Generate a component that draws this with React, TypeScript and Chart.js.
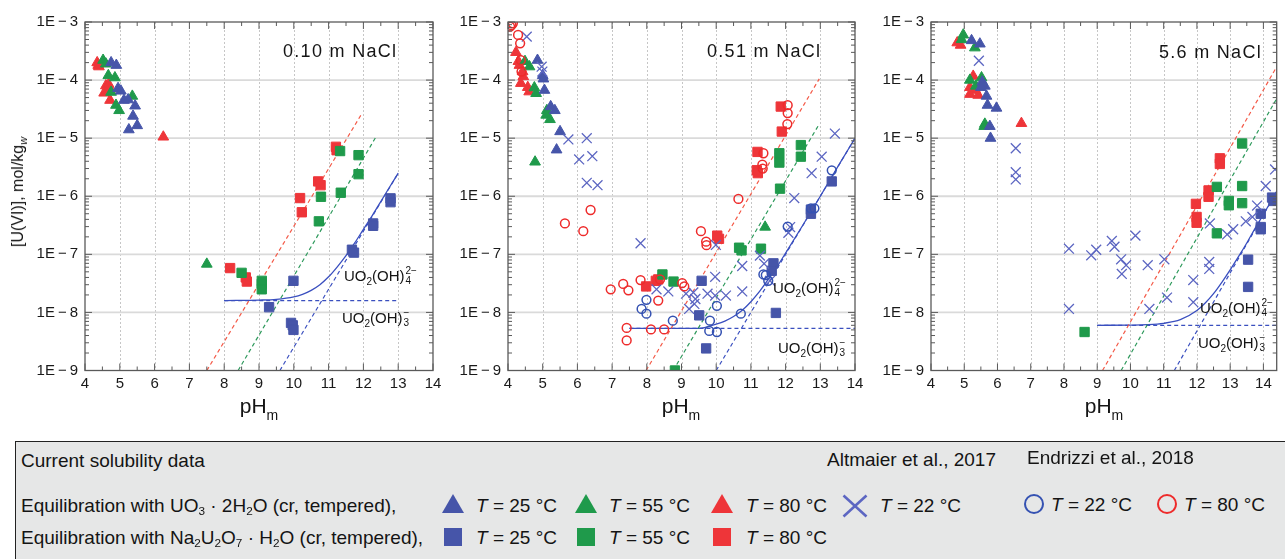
import React, { useEffect, useRef } from 'react';
import { Chart, registerables } from 'chart.js';

Chart.register(...registerables);

type Pt = [number, number];

// ---------- axes ----------
const X_TICKS = [4, 5, 6, 7, 8, 9, 10, 11, 12, 13, 14];
const Y_DECADES = [1e-9, 1e-8, 1e-7, 1e-6, 1e-5, 1e-4, 1e-3];
const PANEL_TITLES = ['0.10 m NaCl', '0.51 m NaCl', '5.6 m NaCl'];

// ---------- Panel A: 0.10 m NaCl ----------
const A_TRI25: Pt[] = [[4.75, 2.0e-4], [4.9, 1.8e-4], [4.95, 7.2e-5], [5.03, 6.5e-5], [5.12, 4.5e-5], [5.24, 4.6e-5], [5.44, 3.6e-5], [5.38, 2.4e-5], [5.5, 1.65e-5], [5.26, 1.4e-5]];
const A_TRI55: Pt[] = [[4.52, 2.2e-4], [4.6, 1.9e-4], [4.67, 1.2e-4], [4.86, 1.1e-4], [4.75, 6.2e-5], [5.36, 5.3e-5], [4.89, 3.7e-5], [4.98, 3.0e-5], [7.5, 6.8e-8]];
const A_TRI80: Pt[] = [[4.35, 2.0e-4], [4.38, 1.8e-4], [4.4, 1.7e-4], [4.6, 8.0e-5], [4.68, 8.5e-5], [4.55, 6.0e-5], [4.72, 7.0e-5], [4.65, 6.5e-5], [4.72, 4.5e-5], [6.25, 1.05e-5]];
const A_SQ25: Pt[] = [[9.99, 3.5e-8], [9.29, 1.23e-8], [9.92, 6.6e-9], [9.97, 6.0e-9], [9.99, 5.0e-9], [11.67, 1.2e-7], [11.73, 1.07e-7], [12.28, 3.4e-7], [12.28, 3.1e-7], [12.78, 9.2e-7], [12.78, 7.9e-7]];
const A_SQ55: Pt[] = [[8.5, 4.8e-8], [9.08, 3.5e-8], [9.08, 3.1e-8], [9.08, 2.5e-8], [10.78, 9.8e-7], [10.72, 3.7e-7], [11.35, 1.15e-6], [11.33, 6.0e-6], [11.86, 5.1e-6], [11.86, 2.4e-6]];
const A_SQ80: Pt[] = [[8.17, 5.8e-8], [8.62, 4.0e-8], [8.65, 3.4e-8], [10.18, 9.3e-7], [10.23, 5.3e-7], [10.7, 1.8e-6], [10.77, 1.55e-6], [11.21, 7.1e-6], [11.23, 6.2e-6]];
const A_RED_LINE: Pt[] = [[7.5, 1e-9], [11.93, 2.5e-5]];
const A_GREEN_LINE: Pt[] = [[8.4, 1e-9], [12.38, 1.1e-5]];
const A_BLUE_LINE: Pt[] = [[9.6, 1e-9], [13.0, 2.5e-6]];
const A_PLATEAU: Pt[] = [[8.0, 1.6e-8], [13.0, 1.6e-8]];
const A_CURVE: Pt[] = [[8.0, 1.6e-8], [9.0, 1.63e-8], [9.5, 1.68e-8], [10.0, 1.85e-8], [10.25, 2.05e-8], [10.5, 2.4e-8], [10.75, 3.0e-8], [11.0, 4.1e-8], [11.25, 6.1e-8], [11.5, 9.5e-8], [11.75, 1.57e-7], [12.0, 2.7e-7], [12.25, 4.6e-7], [12.5, 8.1e-7], [12.75, 1.43e-6], [13.0, 2.5e-6]];

// ---------- Panel B: 0.51 m NaCl ----------
const B_TRI25: Pt[] = [[4.85, 2.2e-4], [5.0, 1.2e-4], [5.02, 1.05e-4], [5.05, 6.7e-5], [5.23, 3.5e-5], [5.35, 3.0e-5], [5.5, 1.3e-5], [5.4, 6.3e-6]];
const B_TRI55: Pt[] = [[4.49, 2.1e-4], [4.62, 1.7e-4], [4.76, 7.4e-5], [4.81, 5.9e-5], [5.12, 3.0e-5], [5.1, 2.5e-5], [5.21, 2.1e-5], [4.78, 3.9e-6], [11.41, 2.95e-7]];
const B_TRI80: Pt[] = [[4.23, 3.0e-4], [4.3, 2.1e-4], [4.33, 1.8e-4], [4.42, 1.4e-4], [4.44, 1.15e-4], [4.37, 8.8e-5], [4.57, 7.5e-5], [4.61, 6.3e-5]];
const B_SQ25: Pt[] = [[9.58, 3.5e-8], [9.51, 8.9e-9], [9.71, 2.4e-9], [11.65, 7.0e-8], [11.6, 5.2e-8], [11.72, 9.8e-9], [12.73, 5.9e-7], [12.73, 5.0e-7], [13.33, 1.8e-6]];
const B_SQ55: Pt[] = [[8.45, 4.5e-8], [8.77, 3.4e-8], [8.81, 1.0e-9], [10.66, 1.3e-7], [10.73, 1.17e-7], [11.29, 1.25e-7], [11.84, 1.35e-6], [11.82, 5.5e-6], [11.82, 3.8e-6], [12.44, 7.6e-6], [12.44, 4.8e-6]];
const B_SQ80: Pt[] = [[7.98, 2.8e-8], [8.26, 3.5e-8], [8.33, 3.7e-8], [10.08, 1.85e-7], [10.03, 2.1e-7], [11.19, 5.8e-6], [11.17, 2.8e-6], [11.2, 2.5e-6], [11.86, 3.5e-5], [11.89, 1.3e-5]];
const B_X22: Pt[] = [[4.54, 5.6e-4], [4.97, 1.7e-4], [4.99, 1.4e-4], [5.74, 9.5e-6], [6.27, 1.0e-5], [6.05, 4.3e-6], [6.43, 4.9e-6], [6.27, 1.7e-6], [6.58, 1.55e-6], [7.82, 1.55e-7], [8.28, 2.5e-8], [8.62, 2.3e-8], [9.13, 2.1e-8], [9.34, 2.2e-8], [9.22, 1.15e-8], [9.37, 1.4e-8], [9.4, 1.7e-8], [9.75, 2.1e-8], [9.97, 1.95e-8], [9.97, 4.1e-8], [9.99, 1.45e-7], [10.28, 1.95e-8], [10.75, 6.3e-8], [10.75, 2.3e-8], [11.26, 9.5e-8], [11.38, 6.9e-8], [11.55, 3.5e-8], [12.13, 2.95e-7], [12.08, 2.35e-7], [12.25, 9.3e-7], [12.75, 2.5e-6], [13.04, 4.8e-6], [13.42, 1.2e-5]];
const B_C22: Pt[] = [[7.85, 1.15e-8], [7.99, 1.65e-8], [7.99, 9.5e-9], [8.75, 7.2e-9], [9.82, 7.2e-9], [9.8, 4.8e-9], [10.02, 4.6e-9], [10.02, 1.3e-8], [10.71, 9.5e-9], [11.36, 4.5e-8], [11.43, 4.4e-8], [11.5, 3.5e-8], [12.06, 3.0e-7], [12.73, 6.2e-7], [12.83, 6.2e-7], [13.33, 2.8e-6]];
const B_C80: Pt[] = [[4.06, 8.3e-4], [4.14, 9.5e-4], [4.1, 8.8e-4], [4.29, 6.0e-4], [4.35, 4.3e-4], [4.37, 2.2e-4], [4.39, 1.4e-4], [5.64, 3.4e-7], [6.17, 2.5e-7], [6.38, 5.8e-7], [6.96, 2.5e-8], [7.32, 3.1e-8], [7.47, 2.4e-8], [7.82, 3.6e-8], [8.38, 3.7e-8], [8.33, 1.6e-8], [9.02, 3.2e-8], [9.08, 2.8e-8], [7.42, 5.4e-9], [7.42, 3.3e-9], [8.12, 5.1e-9], [8.5, 5.1e-9], [9.56, 2.5e-7], [9.71, 1.65e-7], [9.72, 1.44e-7], [10.64, 9.0e-7], [11.36, 5.5e-6], [11.33, 3.5e-6], [11.34, 3.0e-6], [12.06, 3.7e-5], [12.06, 2.7e-5], [12.05, 1.75e-5]];
const B_RED_LINE: Pt[] = [[7.98, 1e-9], [12.97, 1.05e-4]];
const B_GREEN_LINE: Pt[] = [[8.76, 1e-9], [12.97, 1.75e-5]];
const B_BLUE_LINE: Pt[] = [[10.0, 1e-9], [14.0, 1e-5]];
const B_PLATEAU: Pt[] = [[7.5, 5.3e-9], [14.0, 5.3e-9]];
const B_CURVE: Pt[] = [[7.5, 5.3e-9], [9.0, 5.31e-9], [9.5, 5.33e-9], [10.0, 6.3e-9], [10.25, 7.1e-9], [10.5, 8.5e-9], [10.75, 1.09e-8], [11.0, 1.53e-8], [11.25, 2.3e-8], [11.5, 3.7e-8], [11.75, 6.1e-8], [12.0, 1.05e-7], [12.5, 3.2e-7], [13.0, 1.0e-6], [13.5, 3.2e-6], [14.0, 1.0e-5]];

// ---------- Panel C: 5.6 m NaCl ----------
const C_TRI25: Pt[] = [[5.22, 4.8e-4], [5.47, 4.2e-4], [5.54, 9.3e-5], [5.62, 7.9e-5], [5.5, 7.5e-5], [5.67, 5.3e-5], [5.7, 3.7e-5], [5.97, 3.3e-5], [5.77, 1.6e-5], [5.79, 1.0e-5]];
const C_TRI55: Pt[] = [[4.97, 6.0e-4], [4.92, 5.0e-4], [5.32, 3.6e-4], [5.17, 1.0e-4], [5.52, 1.1e-4], [5.35, 7.9e-5], [5.62, 1.75e-5], [5.6, 1.6e-5]];
const C_TRI80: Pt[] = [[4.79, 4.4e-4], [4.89, 4.0e-4], [5.27, 1.17e-4], [5.17, 7.5e-5], [5.34, 6.7e-5], [5.17, 5.7e-5], [5.42, 5.5e-5], [6.72, 1.8e-5]];
const C_SQ25: Pt[] = [[14.26, 9.5e-7], [14.3, 8.3e-7], [13.92, 5.0e-7], [13.92, 2.95e-7], [13.92, 2.7e-7], [13.54, 8.1e-8], [13.54, 2.75e-8]];
const C_SQ55: Pt[] = [[13.36, 8.1e-6], [12.6, 1.45e-6], [13.36, 1.5e-6], [12.96, 8.3e-7], [12.96, 7.0e-7], [13.36, 7.6e-7], [12.6, 2.3e-7], [8.62, 4.6e-9]];
const C_SQ80: Pt[] = [[12.69, 4.5e-6], [12.69, 3.6e-6], [12.35, 1.26e-6], [12.35, 9.8e-7], [11.97, 7.4e-7], [11.99, 4.4e-7], [11.99, 3.5e-7]];
const C_X22: Pt[] = [[5.44, 2.15e-4], [6.55, 6.7e-6], [6.55, 2.6e-6], [6.55, 1.95e-6], [14.07, 1.5e-6], [14.35, 2.9e-6], [8.15, 1.25e-7], [8.15, 1.15e-8], [8.82, 9.6e-8], [8.97, 1.2e-7], [9.44, 1.7e-7], [9.52, 1.35e-7], [9.72, 8.2e-8], [9.87, 6.5e-8], [9.74, 4.6e-8], [10.15, 2.1e-7], [10.52, 6.5e-8], [10.57, 1.15e-8], [11.02, 8.2e-8], [11.1, 1.8e-8], [11.89, 3.6e-8], [11.89, 1.5e-8], [12.37, 7.4e-8], [12.37, 5.6e-8], [12.39, 3.4e-7], [12.91, 2.2e-7], [13.09, 2.7e-7], [13.47, 3.7e-7], [13.67, 4.4e-7], [13.81, 6.9e-7]];
const C_RED_LINE: Pt[] = [[9.16, 1e-9], [14.4, 1.7e-4]];
const C_GREEN_LINE: Pt[] = [[9.72, 1e-9], [14.4, 4.8e-5]];
const C_BLUE_LINE: Pt[] = [[11.32, 1e-9], [14.4, 1.2e-6]];
const C_PLATEAU: Pt[] = [[9.0, 6.0e-9], [14.4, 6.0e-9]];
const C_CURVE: Pt[] = [[9.0, 6.0e-9], [10.0, 6.05e-9], [10.5, 6.15e-9], [11.0, 6.5e-9], [11.5, 7.5e-9], [12.0, 1.08e-8], [12.25, 1.45e-8], [12.5, 2.1e-8], [12.75, 3.3e-8], [13.0, 5.4e-8], [13.25, 9.1e-8], [13.5, 1.57e-7], [13.75, 2.8e-7], [14.0, 4.85e-7], [14.25, 8.6e-7], [14.4, 1.21e-6]];

// ---------- styles ----------
const FONT = '"Liberation Sans", Arial, Helvetica, sans-serif';
const C_BLUE = '#4655a9';
const C_GREEN = '#1f9a4b';
const C_RED = '#ee3539';
const C_XBLUE = '#5c66c2';
const C_CBLUE = '#3552b2';
const C_CRED = '#ee2b2b';
const L_BLUE = '#3a4fbf';
const L_RED = '#f45a48';
const L_GREEN = '#2e9a5c';
const LEG_SIZE = 19;

interface Spec {
  left: number; width: number; yAxisW: number; rightPad: number; xMax: number;
  tri25: Pt[]; tri55: Pt[]; tri80: Pt[]; sq25: Pt[]; sq55: Pt[]; sq80: Pt[];
  x22: Pt[]; c22: Pt[]; c80: Pt[];
  redLine: Pt[]; greenLine: Pt[]; blueLine: Pt[]; plateau: Pt[]; curve: Pt[];
}

const SPECS: Spec[] = [
  { left: 0, width: 445, yAxisW: 85, rightPad: 12, xMax: 14,
    tri25: A_TRI25, tri55: A_TRI55, tri80: A_TRI80, sq25: A_SQ25, sq55: A_SQ55, sq80: A_SQ80,
    x22: [], c22: [], c80: [], redLine: A_RED_LINE, greenLine: A_GREEN_LINE, blueLine: A_BLUE_LINE, plateau: A_PLATEAU, curve: A_CURVE },
  { left: 445, width: 421, yAxisW: 63, rightPad: 11, xMax: 14,
    tri25: B_TRI25, tri55: B_TRI55, tri80: B_TRI80, sq25: B_SQ25, sq55: B_SQ55, sq80: B_SQ80,
    x22: B_X22, c22: B_C22, c80: B_C80, redLine: B_RED_LINE, greenLine: B_GREEN_LINE, blueLine: B_BLUE_LINE, plateau: B_PLATEAU, curve: B_CURVE },
  { left: 866, width: 419, yAxisW: 65, rightPad: 7, xMax: 14.4,
    tri25: C_TRI25, tri55: C_TRI55, tri80: C_TRI80, sq25: C_SQ25, sq55: C_SQ55, sq80: C_SQ80,
    x22: C_X22, c22: [], c80: [], redLine: C_RED_LINE, greenLine: C_GREEN_LINE, blueLine: C_BLUE_LINE, plateau: C_PLATEAU, curve: C_CURVE },
];

const pts = (a: Pt[]) => a.map(([x, y]) => ({ x, y }));

function lineDs(d: Pt[], color: string, dash: number[], width = 1.2) {
  return {
    data: pts(d), showLine: true, borderColor: color, borderWidth: width, borderDash: dash,
    pointRadius: 0, fill: false, order: 10, clip: 0, cubicInterpolationMode: 'monotone',
  };
}

function markDs(d: Pt[], style: string, color: string, r: number, filled: boolean, bw: number, order: number) {
  return {
    data: pts(d), showLine: false, pointStyle: style, pointRadius: r,
    pointBackgroundColor: filled ? color : 'rgba(0,0,0,0)', pointBorderColor: color,
    pointBorderWidth: bw, order, clip: 0,
  };
}

const framePlugin = {
  id: 'frame',
  beforeDatasetsDraw(chart: any) {
    const { ctx, chartArea: a, scales } = chart;
    const xs = scales.x; const ys = scales.y;
    ctx.save();
    ctx.lineWidth = 1; ctx.strokeStyle = '#c6c6c6'; ctx.setLineDash([2, 2]);
    for (const v of X_TICKS) {
      if (v <= xs.min || v >= xs.max) continue;
      const px = Math.round(xs.getPixelForValue(v)) + 0.5;
      ctx.beginPath(); ctx.moveTo(px, a.top); ctx.lineTo(px, a.bottom); ctx.stroke();
    }
    ctx.setLineDash([]); ctx.strokeStyle = '#dadada'; ctx.lineWidth = 1.8;
    for (const v of Y_DECADES) {
      if (v <= ys.min * 1.001 || v >= ys.max / 1.001) continue;
      const py = ys.getPixelForValue(v);
      ctx.beginPath(); ctx.moveTo(a.left, py); ctx.lineTo(a.right, py); ctx.stroke();
    }
    ctx.restore();
  },
  afterDatasetsDraw(chart: any) {
    const { ctx, chartArea: a, scales } = chart;
    const xs = scales.x; const ys = scales.y;
    ctx.save();
    ctx.strokeStyle = '#5a5a5a'; ctx.lineWidth = 1.3; ctx.setLineDash([]);
    ctx.strokeRect(a.left, a.top, a.right - a.left, a.bottom - a.top);
    ctx.lineWidth = 1;
    ctx.beginPath();
    for (const d of Y_DECADES) {
      for (let m = 1; m <= 9; m++) {
        const v = d * m;
        if (v < ys.min * 0.999 || v > ys.max * 1.001) continue;
        const py = ys.getPixelForValue(v);
        const len = m === 1 ? 7 : 4;
        ctx.moveTo(a.left, py); ctx.lineTo(a.left + len, py);
        ctx.moveTo(a.right, py); ctx.lineTo(a.right - len, py);
      }
    }
    for (let v = 4; v <= xs.max + 1e-9; v += 0.5) {
      const px = xs.getPixelForValue(v);
      const len = Number.isInteger(v) ? 7 : 4;
      ctx.moveTo(px, a.bottom); ctx.lineTo(px, a.bottom - len);
      ctx.moveTo(px, a.top); ctx.lineTo(px, a.top + len);
    }
    ctx.stroke();
    ctx.restore();
  },
};

function buildConfig(s: Spec): any {
  const datasets: any[] = [
    lineDs(s.redLine, L_RED, [4, 3]),
    lineDs(s.greenLine, L_GREEN, [4, 3]),
    lineDs(s.blueLine, L_BLUE, [4, 3]),
    lineDs(s.plateau, L_BLUE, [4, 3]),
    lineDs(s.curve, L_BLUE, [], 1.3),
    markDs(s.sq25, 'rect', C_BLUE, 6.6, true, 1, 4),
    markDs(s.sq55, 'rect', C_GREEN, 6.6, true, 1, 4),
    markDs(s.sq80, 'rect', C_RED, 6.6, true, 1, 4),
    markDs(s.tri25, 'triangle', C_BLUE, 6.2, true, 1, 3),
    markDs(s.tri55, 'triangle', C_GREEN, 6.2, true, 1, 3),
    markDs(s.tri80, 'triangle', C_RED, 6.2, true, 1, 3),
    markDs(s.x22, 'crossRot', C_XBLUE, 7, false, 1.3, 2),
    markDs(s.c22, 'circle', C_CBLUE, 4.4, false, 1.5, 1),
    markDs(s.c80, 'circle', C_CRED, 4.4, false, 1.5, 1),
  ];
  return {
    type: 'scatter',
    data: { datasets },
    options: {
      responsive: false, animation: false, devicePixelRatio: 1, events: [],
      layout: { padding: { left: 0, right: s.rightPad, top: 22, bottom: 0 } },
      plugins: { legend: { display: false }, tooltip: { enabled: false }, title: { display: false } },
      scales: {
        x: {
          type: 'linear', min: 4, max: s.xMax,
          afterBuildTicks: (sc: any) => { sc.ticks = X_TICKS.filter((v) => v <= s.xMax).map((v) => ({ value: v })); },
          afterFit: (sc: any) => { sc.height = 59.5; sc.paddingLeft = 0; sc.paddingRight = 0; },
          grid: { display: false, drawTicks: false }, border: { display: false },
          ticks: { autoSkip: false, maxRotation: 0, padding: 4, color: '#1a1a1a', font: { family: FONT, size: 15 }, callback: (v: any) => String(v) },
        },
        y: {
          type: 'logarithmic', min: 1e-9, max: 1e-3,
          afterBuildTicks: (sc: any) => { sc.ticks = Y_DECADES.map((v) => ({ value: v })); },
          afterFit: (sc: any) => { sc.width = s.yAxisW; sc.paddingTop = 0; sc.paddingBottom = 0; },
          grid: { display: false, drawTicks: false }, border: { display: false },
          ticks: {
            autoSkip: false, padding: 7, color: '#1a1a1a', font: { family: FONT, size: 15 },
            callback: (v: any) => { const e = Math.round(Math.log10(Number(v))); return `1E\u2009\u2212\u2009${-e}`; },
          },
        },
      },
    },
    plugins: [framePlugin],
  };
}

function PanelChart({ spec }: { spec: Spec }) {
  const ref = useRef<HTMLCanvasElement>(null);
  useEffect(() => {
    const chart = new Chart(ref.current as HTMLCanvasElement, buildConfig(spec));
    return () => chart.destroy();
  }, [spec]);
  return <canvas ref={ref} width={spec.width} height={430}
    style={{ position: 'absolute', left: spec.left, top: 0, width: spec.width, height: 430 }} />;
}

function Txt({ x, cy, size, children, align = 'left', style }: any) {
  const s: any = { position: 'absolute', top: cy - 0.49 * size, fontSize: size, lineHeight: `${size}px`, whiteSpace: 'nowrap', ...style };
  if (align === 'left') s.left = x;
  else if (align === 'right') s.right = 1285 - x;
  else { s.left = x; s.transform = 'translateX(-50%)'; }
  return <div style={s}>{children}</div>;
}

const Sub = ({ children, size = '0.62em', shift = '0.32em' }: any) => (
  <span style={{ fontSize: size, position: 'relative', top: shift, lineHeight: 0 }}>{children}</span>
);

function SubSup({ sub, sup }: { sub: string; sup: string }) {
  return (
    <span style={{ position: 'relative', display: 'inline-block', width: 12, height: 1 }}>
      <span style={{ position: 'absolute', left: 1, bottom: 5, fontSize: 10, lineHeight: 1 }}>{sup}</span>
      <span style={{ position: 'absolute', left: 1, top: -4, fontSize: 10, lineHeight: 1 }}>{sub}</span>
    </span>
  );
}

function Species({ x, cy, n, charge }: { x: number; cy: number; n: string; charge: string }) {
  return (
    <Txt x={x} cy={cy} size={15}>
      UO<Sub size="10px" shift="4px">2</Sub>(OH)<SubSup sub={n} sup={charge} />
    </Txt>
  );
}

const LegTri = ({ cx, cy, color }: any) => (
  <div style={{ position: 'absolute', left: cx - 11.5, top: cy - 10, width: 0, height: 0,
    borderLeft: '11.5px solid transparent', borderRight: '11.5px solid transparent', borderBottom: `19px solid ${color}` }} />
);
const LegSq = ({ cx, cy, color }: any) => (
  <div style={{ position: 'absolute', left: cx - 9, top: cy - 9, width: 18, height: 18, background: color }} />
);
const LegCirc = ({ cx, cy, color }: any) => (
  <div style={{ position: 'absolute', left: cx - 10, top: cy - 10, width: 20, height: 20, boxSizing: 'border-box',
    border: `2.6px solid ${color}`, borderRadius: '50%' }} />
);
const LegX = ({ cx, cy, color }: any) => (
  <svg style={{ position: 'absolute', left: cx - 13, top: cy - 12 }} width={26} height={24}>
    <line x1={1.5} y1={1.5} x2={24.5} y2={22.5} stroke={color} strokeWidth={2.6} />
    <line x1={24.5} y1={1.5} x2={1.5} y2={22.5} stroke={color} strokeWidth={2.6} />
  </svg>
);
const TLabel = ({ x, cy, deg }: any) => (
  <Txt x={x} cy={cy} size={LEG_SIZE}><i>T</i> = {deg} °C</Txt>
);

function PH({ cx }: { cx: number }) {
  return (
    <Txt x={cx} cy={405.5} size={21} align="center">
      pH<Sub size="14px" shift="7px">m</Sub>
    </Txt>
  );
}

export default function App() {
  return (
    <div style={{ position: 'absolute', left: 0, top: 0, width: 1285, height: 559, background: '#ffffff',
      overflow: 'hidden', fontFamily: FONT, color: '#141414' }}>
      {SPECS.map((s, i) => <PanelChart key={i} spec={s} />)}

      {/* panel titles */}
      <Txt x={283} cy={51} size={18} style={{ letterSpacing: '1.3px' }}>{PANEL_TITLES[0]}</Txt>
      <Txt x={707} cy={51} size={18} style={{ letterSpacing: '1.3px' }}>{PANEL_TITLES[1]}</Txt>
      <Txt x={1159} cy={52} size={18} style={{ letterSpacing: '1.3px' }}>{PANEL_TITLES[2]}</Txt>

      {/* species labels */}
      <Species x={344} cy={275} n="4" charge="2−" />
      <Species x={342} cy={317} n="3" charge="−" />
      <Species x={773} cy={287} n="4" charge="2−" />
      <Species x={778} cy={347} n="3" charge="−" />
      <Species x={1200} cy={307} n="4" charge="2−" />
      <Species x={1198} cy={342} n="3" charge="−" />

      {/* axis titles */}
      <PH cx={259} />
      <PH cx={681} />
      <PH cx={1104} />
      <div style={{ position: 'absolute', left: 18, top: 192, transform: 'translate(-50%, -50%) rotate(-90deg)',
        fontSize: 16, lineHeight: '16px', whiteSpace: 'nowrap' }}>
        [U(VI)], mol/kg<Sub size="11px" shift="4px"><i>w</i></Sub>
      </div>

      {/* legend box */}
      <div style={{ position: 'absolute', left: 15, top: 441, width: 1290, height: 130, background: '#e6e7e7',
        borderTop: '1.5px solid #222', borderLeft: '1.5px solid #222' }} />
      <Txt x={21} cy={460} size={LEG_SIZE}>Current solubility data</Txt>
      <Txt x={996} cy={459} size={LEG_SIZE} align="right">Altmaier et al., 2017</Txt>
      <Txt x={1027} cy={457} size={LEG_SIZE}>Endrizzi et al., 2018</Txt>
      <Txt x={21} cy={505} size={LEG_SIZE}>
        Equilibration with UO<Sub>3</Sub> · 2H<Sub>2</Sub>O (cr, tempered),
      </Txt>
      <Txt x={21} cy={537} size={LEG_SIZE}>
        Equilibration with Na<Sub>2</Sub>U<Sub>2</Sub>O<Sub>7</Sub> · H<Sub>2</Sub>O (cr, tempered),
      </Txt>

      <LegTri cx={453} cy={504} color={C_BLUE} />
      <TLabel x={476} cy={505} deg="25" />
      <LegTri cx={586} cy={504} color={C_GREEN} />
      <TLabel x={609} cy={505} deg="55" />
      <LegTri cx={722} cy={504} color={C_RED} />
      <TLabel x={746} cy={505} deg="80" />
      <LegX cx={855} cy={506} color={C_XBLUE} />
      <TLabel x={880} cy={505} deg="22" />
      <LegCirc cx={1034} cy={504} color={C_CBLUE} />
      <TLabel x={1051} cy={504} deg="22" />
      <LegCirc cx={1167} cy={504} color={C_CRED} />
      <TLabel x={1184} cy={504} deg="80" />

      <LegSq cx={453} cy={537} color={C_BLUE} />
      <TLabel x={476} cy={537} deg="25" />
      <LegSq cx={586} cy={537} color={C_GREEN} />
      <TLabel x={609} cy={537} deg="55" />
      <LegSq cx={722} cy={537} color={C_RED} />
      <TLabel x={746} cy={537} deg="80" />
    </div>
  );
}
